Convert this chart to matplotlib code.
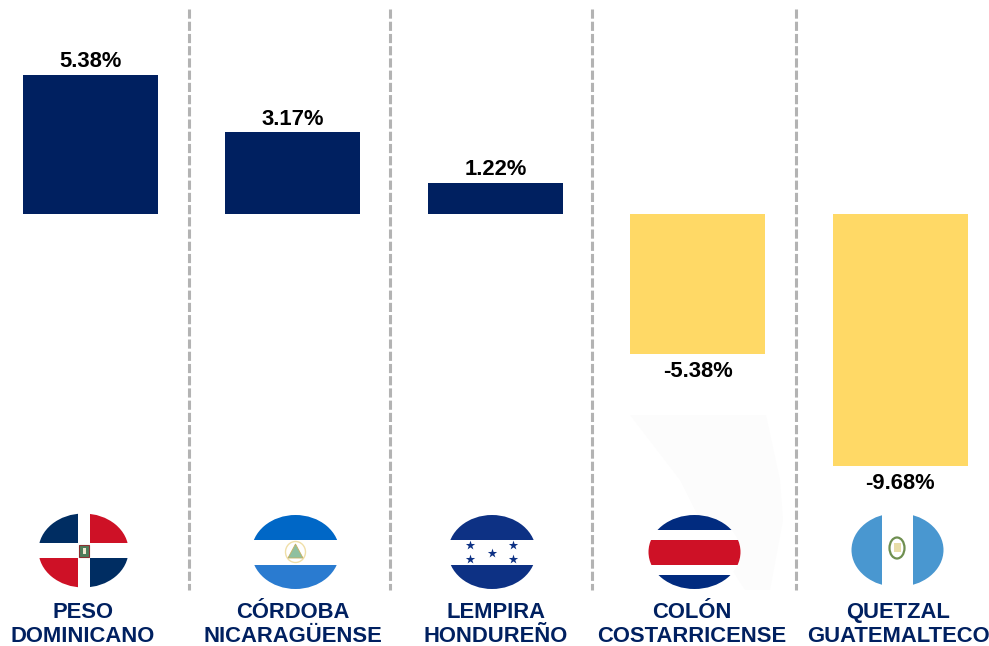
import matplotlib
matplotlib.use('Agg')
import matplotlib.pyplot as plt
from matplotlib.patches import Ellipse, Rectangle, Polygon

# Data
currencies = ['PESO\nDOMINICANO', 'CÓRDOBA\nNICARAGÜENSE', 'LEMPIRA\nHONDUREÑO',
              'COLÓN\nCOSTARRICENSE', 'QUETZAL\nGUATEMALTECO']
variation = [5.38, 3.17, 1.22, -5.38, -9.68]
value_labels = ['5.38%', '3.17%', '1.22%', '-5.38%', '-9.68%']

NAVY = '#002060'
YELLOW = '#FFD966'
GRAY = '#B3B3B3'

plt.rcParams['font.family'] = ['Liberation Sans', 'DejaVu Sans']

fig = plt.figure(figsize=(9.89, 6.46), dpi=100)
ax = fig.add_axes([0, 0, 1, 1])
ax.set_xlim(-0.4465, 4.4375)
ax.set_ylim(-16.60, 8.25)
ax.axis('off')

x = range(len(variation))
colors = [NAVY if v > 0 else YELLOW for v in variation]
ax.bar(x, variation, width=0.667, color=colors)
for i, v in enumerate(variation):
    ax.annotate(value_labels[i], (i, v), xytext=(0, 9.2 if v > 0 else -12.6),
                textcoords='offset points', ha='center', va='center',
                fontsize=15.8, fontweight='bold', color='black')

# second layer in pixel coordinates for separators, flags and labels
ov = fig.add_axes([0, 0, 1, 1])
ov.set_xlim(0, 989)
ov.set_ylim(646, 0)
ov.axis('off')
ov.patch.set_alpha(0)

for px in [189, 390, 592, 796]:
    ov.plot([px, px], [9, 590], color=GRAY, lw=2.2, dashes=(3.0, 1.0))

# faint shape behind the Costa Rica flag
ov.add_patch(Polygon([(630, 415), (766, 415), (780, 480), (783, 520), (770, 590),
                      (745, 590), (700, 520), (680, 480)],
                     closed=True, fc='#FCFCFC', ec='none', zorder=0))


def flag(cx, cy, rx, ry, bands):
    oval = Ellipse((cx, cy), 2 * rx, 2 * ry, fc='white', ec='none', zorder=2)
    ov.add_patch(oval)
    for x0, y0, w, h, c in bands:
        r = Rectangle((x0, y0), w, h, fc=c, ec='none', zorder=3)
        ov.add_patch(r)
        r.set_clip_path(oval)


# Dominican Republic
flag(83.5, 550.5, 45, 37, [(38, 513, 40, 30, '#002D62'), (90, 513, 40, 30, '#CE1126'),
                           (38, 558, 40, 30, '#CE1126'), (90, 558, 40, 30, '#002D62')])
ov.add_patch(Rectangle((79, 545), 10, 12, fc='#4E7D5A', ec='#8A3030', lw=0.8, zorder=4))
ov.add_patch(Rectangle((82.5, 548), 3.5, 6, fc='#F2E8D0', ec='none', zorder=5))

# Nicaragua
flag(295.5, 552, 44, 37, [(250, 514, 92, 26, '#0067C6'), (250, 565, 92, 26, '#2A7BD0')])
ov.add_patch(Ellipse((295.5, 552), 20, 21, fc='none', ec='#F0DFA8', lw=1.0, zorder=4))
ov.add_patch(Polygon([(295.5, 544), (303, 558), (288, 558)], closed=True,
                     fc='#8FC0A0', ec='#C8B060', lw=0.6, zorder=4))

# Honduras
flag(492, 552, 44, 37, [(446, 514, 92, 26, '#0D3184'), (446, 565, 92, 26, '#0D3184')])
ov.scatter([470, 513, 492, 470, 513], [545, 545, 552.5, 559, 559], marker='*', s=50,
           color='#0D3184', linewidths=0, zorder=4)

# Costa Rica
flag(694.5, 552, 46, 37, [(646, 514, 98, 16, '#012B7F'), (646, 540, 98, 25, '#CE1126'),
                          (646, 575, 98, 16, '#012B7F')])

# Guatemala
flag(897.5, 550, 46, 37, [(850, 512, 32, 76, '#4997D0'), (913, 512, 32, 76, '#4997D0')])
ov.add_patch(Ellipse((897, 548), 15, 21, fc='none', ec='#6F8F50', lw=1.6, zorder=4))
ov.add_patch(Rectangle((893.5, 543), 7, 9, fc='#E8DDA8', ec='none', zorder=4))

label_x = [82.5, 293, 496, 691.5, 898]
for lx, name in zip(label_x, currencies):
    ov.text(lx, 624.5, name, ha='center', va='center', fontsize=15.8, fontweight='bold',
            color=NAVY, linespacing=1.18)

fig.savefig('out.png', dpi=100)
